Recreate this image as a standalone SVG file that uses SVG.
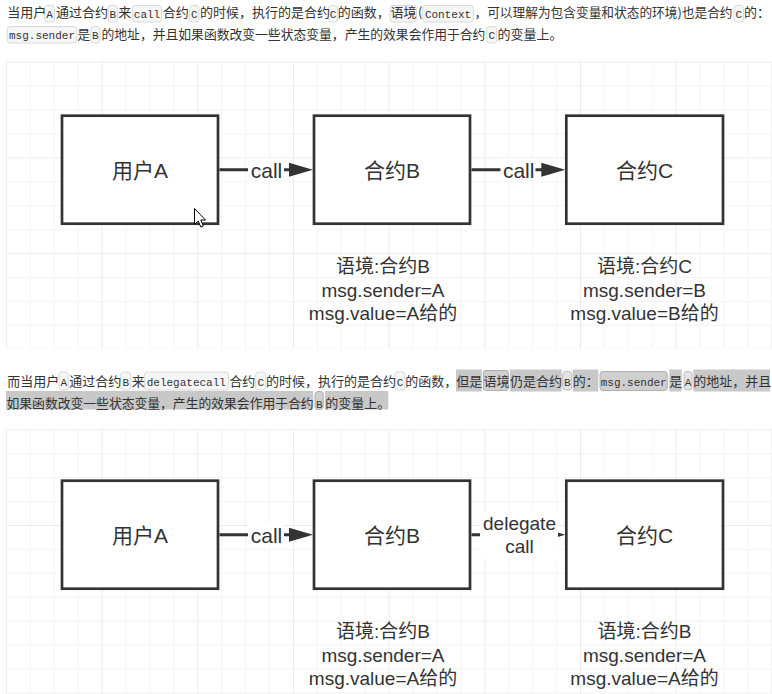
<svg xmlns="http://www.w3.org/2000/svg" width="772" height="694" viewBox="0 0 772 694">
<defs>
<style>
.p{font-family:"Noto Sans CJK SC","Liberation Sans",sans-serif;font-size:13px;fill:#333}
.ps{font-size:12.7px}
.pt{font-size:12.8px}
.m{font-family:"Liberation Mono",monospace;font-size:11px;fill:#333;text-anchor:middle}
.pill{fill:#f6f6f6;stroke:#dadada;stroke-width:1}
.pl{fill:#e4e4e4;stroke:#bdbdbd;stroke-width:1}
.hl{fill:#c8c8c8}
.hp{fill:#cfcfcf;stroke:#b0b0b0;stroke-width:1}
.box{fill:#fff;stroke:#333;stroke-width:2.7}
.nt{font-family:"Liberation Sans","Noto Sans CJK SC",sans-serif;font-size:21px;fill:#333;text-anchor:middle}
.ct{font-family:"Liberation Sans","Noto Sans CJK SC",sans-serif;font-size:19px;fill:#333;text-anchor:middle}
.edge{stroke:#333;stroke-width:3;fill:none;marker-end:url(#arr)}
.lbg{fill:#fff}
.mn{fill:#f4f4f4}
.mj{fill:#ececec}
</style>
<marker id="arr" markerUnits="userSpaceOnUse" markerWidth="24" markerHeight="14" refX="11" refY="7" orient="auto" overflow="visible">
<path d="M0,0 L24,7 L0,14 Z" fill="#333"/>
</marker>
<pattern id="grid1" patternUnits="userSpaceOnUse" x="5.9" y="61.7" width="95.68" height="95.68">
<rect class="mn" x="23.92" y="0" width="1" height="95.68"/>
<rect class="mn" x="47.84" y="0" width="1" height="95.68"/>
<rect class="mn" x="71.76" y="0" width="1" height="95.68"/>
<rect class="mn" x="0" y="23.92" width="95.68" height="1"/>
<rect class="mn" x="0" y="47.84" width="95.68" height="1"/>
<rect class="mn" x="0" y="71.76" width="95.68" height="1"/>
<rect class="mj" x="0" y="0" width="1" height="95.68"/>
<rect class="mj" x="0" y="0" width="95.68" height="1"/>
</pattern>
<pattern id="grid2" href="#grid1" x="5.9" y="429.3"/>
</defs>

<!-- paragraph 1 -->
<g id="para1">
<rect class="pill" x="44.5" y="5.5" width="10" height="16.5" rx="3"/>
<rect class="pill" x="108" y="5.5" width="9.5" height="16.5" rx="3"/>
<rect class="pill" x="132.5" y="5.5" width="29" height="16.5" rx="3"/>
<rect class="pill" x="189.5" y="5.5" width="9.5" height="16.5" rx="3"/>
<rect class="pill" x="328.5" y="5.5" width="9" height="16.5" rx="3"/>
<rect class="pill" x="390" y="5.5" width="26.5" height="16.5" rx="3"/>
<rect class="pill" x="422.7" y="5.5" width="50.6" height="16.5" rx="3"/>
<rect class="pill" x="734" y="5.5" width="9.5" height="16.5" rx="3"/>
<text class="p" y="17"><tspan x="7.3">当用户</tspan><tspan x="56">通过合约</tspan><tspan x="118.3">来</tspan><tspan x="162.7">合约</tspan><tspan x="200">的时候，执行的是合约</tspan><tspan x="337.7">的函数，</tspan><tspan x="390.5">语境</tspan><tspan x="418">(</tspan><tspan x="744">的：</tspan></text>
<text class="p ps" x="474.5" y="17">，可以理解为包含变量和状态的环境)也是合约</text>
<text class="m" y="17.5"><tspan x="49.5">A</tspan><tspan x="112.8">B</tspan><tspan x="147">call</tspan><tspan x="194.2">C</tspan><tspan x="333">C</tspan><tspan x="448">Context</tspan><tspan x="738.9">C</tspan></text>
<rect class="pill" x="7.3" y="26.5" width="69.4" height="16.5" rx="3"/>
<rect class="pill" x="90.7" y="26.5" width="9.3" height="16.5" rx="3"/>
<rect class="pill" x="486.7" y="26.5" width="10" height="16.5" rx="3"/>
<text class="p" y="38.5"><tspan x="77.3">是</tspan><tspan x="497.5">的变量上。</tspan></text>
<text class="p pt" x="101.5" y="38.5">的地址，并且如果函数改变一些状态变量，产生的效果会作用于合约</text>
<text class="m" y="39"><tspan x="42">msg.sender</tspan><tspan x="95.3">B</tspan><tspan x="491.9">C</tspan></text>
</g>

<!-- diagram 1 background -->
<rect x="6" y="61" width="766" height="288" fill="#fff"/>
<rect x="6" y="61" width="766" height="288" fill="url(#grid1)"/>

<g id="connectors1">
<line class="edge" x1="219.5" y1="169.7" x2="300" y2="169.7"/>
<rect class="lbg" x="248" y="158" width="36" height="24"/>
<text class="nt" x="266.5" y="177.5">call</text>
<line class="edge" x1="471.5" y1="169.7" x2="552.3" y2="169.7"/>
<rect class="lbg" x="500.5" y="158" width="35" height="24"/>
<text class="nt" x="518.7" y="177.5">call</text>
</g>

<g id="userA1"><rect class="box" x="62" y="115.7" width="156" height="108"/><text class="nt" x="140" y="177.5">用户A</text></g>
<g id="contractB1"><rect class="box" x="314" y="115.7" width="156" height="108"/><text class="nt" x="392" y="177.5">合约B</text></g>
<g id="contractC1"><rect class="box" x="566.3" y="115.7" width="156.7" height="108"/><text class="nt" x="644.6" y="177.5">合约C</text></g>

<g id="ctxB1"><text class="ct" x="383" y="273.3">语境:合约B</text><text class="ct" x="383" y="296.7">msg.sender=A</text><text class="ct" x="383" y="320">msg.value=A给的</text></g>
<g id="ctxC1"><text class="ct" x="644.5" y="273.3">语境:合约C</text><text class="ct" x="644.5" y="296.7">msg.sender=B</text><text class="ct" x="644.5" y="320">msg.value=B给的</text></g>

<polygon points="194.5,208.5 194.5,224.5 198.2,221 200.8,227 203.3,226 200.8,220 205.5,220" fill="#fff" stroke="#000" stroke-width="1" stroke-linejoin="round"/>

<!-- paragraph 2 -->
<g id="para2">
<rect class="pill" x="59" y="372" width="9.3" height="18" rx="3"/>
<rect class="pill" x="120.7" y="372" width="10" height="18" rx="3"/>
<rect class="pill" x="144.3" y="372" width="84" height="18" rx="3"/>
<rect class="pill" x="255.7" y="372" width="10" height="18" rx="3"/>
<rect class="pill" x="395" y="372" width="10" height="18" rx="3"/>
<rect class="hl" x="456" y="369.5" width="25.7" height="22"/>
<rect class="hp" x="483.3" y="370.5" width="25" height="20" rx="2"/>
<rect class="hl" x="510" y="369.5" width="51.7" height="22"/>
<rect class="pl" x="562.7" y="371.5" width="9" height="18.5" rx="3"/>
<rect class="hl" x="572.7" y="369.5" width="25.6" height="22"/>
<rect class="hp" x="600" y="371.5" width="67.3" height="19" rx="3"/>
<rect class="hl" x="669.3" y="369.5" width="12.4" height="22"/>
<rect class="pl" x="684" y="371.5" width="8" height="18.5" rx="3"/>
<rect class="hl" x="693.3" y="369.5" width="76.7" height="22"/>
<text class="p" y="385.5"><tspan x="7.3">而当用户</tspan><tspan x="69.3">通过合约</tspan><tspan x="131.7">来</tspan><tspan x="229.3">合约</tspan><tspan x="266">的时候，执行的是合约</tspan><tspan x="405.3">的函数，</tspan><tspan x="456.3">但是</tspan><tspan x="483.5">语境</tspan><tspan x="510">仍是合约</tspan><tspan x="572.7">的：</tspan><tspan x="669.3">是</tspan><tspan x="693.3">的地址，并且</tspan></text>
<text class="m" y="385.8"><tspan x="63.7">A</tspan><tspan x="125.7">B</tspan><tspan x="186.3">delegatecall</tspan><tspan x="260.7">C</tspan><tspan x="400">C</tspan><tspan x="567.2">B</tspan><tspan x="633.7">msg.sender</tspan><tspan x="688">A</tspan></text>
<rect class="hl" x="6" y="391" width="307.3" height="18.5"/>
<rect class="hp" x="315" y="391.5" width="8.3" height="18" rx="3"/>
<rect class="hl" x="325" y="391" width="63.3" height="18.5"/>
<text class="p pt" x="6.5" y="407.5">如果函数改变一些状态变量，产生的效果会作用于合约</text>
<text class="p" x="325.3" y="407.5">的变量上。</text>
<text class="m" y="407.8"><tspan x="319.4">B</tspan></text>
</g>

<!-- diagram 2 background -->
<rect x="6" y="429" width="766" height="265" fill="#fff"/>
<rect x="6" y="429" width="766" height="265" fill="url(#grid2)"/>

<g id="connectors2">
<line class="edge" x1="219.5" y1="534.7" x2="300" y2="534.7"/>
<rect class="lbg" x="248" y="523" width="36" height="24"/>
<text class="nt" x="266.5" y="542.5">call</text>
<line class="edge" x1="471.5" y1="534.7" x2="552.3" y2="534.7"/>
<rect class="lbg" x="480" y="511" width="78" height="48"/>
<text class="ct" x="519.5" y="530">delegate</text>
<text class="ct" x="519.5" y="552.5">call</text>
</g>

<g id="userA2"><rect class="box" x="62" y="480.7" width="156" height="108"/><text class="nt" x="140" y="542.5">用户A</text></g>
<g id="contractB2"><rect class="box" x="314" y="480.7" width="156" height="108"/><text class="nt" x="392" y="542.5">合约B</text></g>
<g id="contractC2"><rect class="box" x="566.3" y="480.7" width="156.7" height="108"/><text class="nt" x="644.6" y="542.5">合约C</text></g>

<g id="ctxB2"><text class="ct" x="383" y="638.3">语境:合约B</text><text class="ct" x="383" y="661.7">msg.sender=A</text><text class="ct" x="383" y="685">msg.value=A给的</text></g>
<g id="ctxC2"><text class="ct" x="644.5" y="638.3">语境:合约B</text><text class="ct" x="644.5" y="661.7">msg.sender=A</text><text class="ct" x="644.5" y="685">msg.value=A给的</text></g>
</svg>
